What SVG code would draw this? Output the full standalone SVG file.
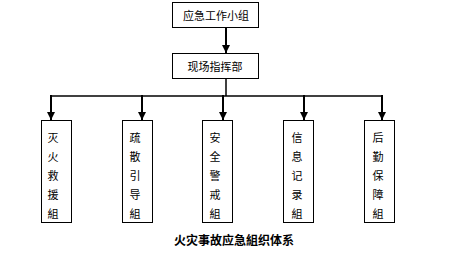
<svg xmlns="http://www.w3.org/2000/svg" width="450" height="253" viewBox="0 0 450 253">
<style>
.box{fill:#fff;stroke:#000;stroke-width:1}
.t{font-family:"Noto Sans CJK SC","Noto Sans CJK JP",sans-serif;font-size:11px;fill:#000;text-anchor:middle;dominant-baseline:central}
.cap{font-family:"Noto Sans CJK SC",sans-serif;font-size:12px;font-weight:bold;fill:#000;text-anchor:middle;dominant-baseline:central}
.ln{stroke:#000;fill:none}
</style>
<defs>
<marker id="ah" markerWidth="4" markerHeight="4" refX="4" refY="2" orient="auto" markerUnits="strokeWidth">
<path d="M0,0 L4,2 L0,4 Z" fill="#000"/>
</marker>
</defs>
<rect width="450" height="253" fill="#fff"/>
<g id="connectors">
<line class="ln" x1="226" y1="28" x2="226" y2="53" stroke-width="2" marker-end="url(#ah)"/>
<line class="ln" x1="226" y1="78" x2="226" y2="96" stroke-width="1.5"/>
<line class="ln" x1="50" y1="96" x2="383" y2="96" stroke-width="1.5"/>
<line class="ln" x1="51" y1="95" x2="51" y2="120" stroke-width="2" marker-end="url(#ah)"/>
<line class="ln" x1="142" y1="95" x2="142" y2="120" stroke-width="2" marker-end="url(#ah)"/>
<line class="ln" x1="223" y1="95" x2="223" y2="120" stroke-width="2" marker-end="url(#ah)"/>
<line class="ln" x1="304" y1="95" x2="304" y2="120" stroke-width="2" marker-end="url(#ah)"/>
<line class="ln" x1="382" y1="95" x2="382" y2="120" stroke-width="2" marker-end="url(#ah)"/>
</g>
<g id="n-top">
<rect class="box" x="172.5" y="2.5" width="86" height="25"/>
<text class="t" x="216" y="15">应急工作小组</text>
</g>
<g id="n-site">
<rect class="box" x="172.5" y="53.5" width="86" height="25"/>
<text class="t" x="215" y="66">现场指挥部</text>
</g>
<g id="n1">
<rect class="box" x="41.5" y="120.5" width="30" height="102"/>
<text class="t" x="53" y="137">灭</text><text class="t" x="53" y="156">火</text><text class="t" x="53" y="175">救</text><text class="t" x="53" y="194">援</text><text class="t" x="53" y="213">組</text>
</g>
<g id="n2">
<rect class="box" x="122.5" y="120.5" width="30" height="102"/>
<text class="t" x="135" y="137">疏</text><text class="t" x="135" y="156">散</text><text class="t" x="135" y="175">引</text><text class="t" x="135" y="194">导</text><text class="t" x="135" y="213">組</text>
</g>
<g id="n3">
<rect class="box" x="202.5" y="120.5" width="30" height="102"/>
<text class="t" x="215" y="137">安</text><text class="t" x="215" y="156">全</text><text class="t" x="215" y="175">警</text><text class="t" x="215" y="194">戒</text><text class="t" x="215" y="213">組</text>
</g>
<g id="n4">
<rect class="box" x="283.5" y="120.5" width="30" height="102"/>
<text class="t" x="297" y="137">信</text><text class="t" x="297" y="156">息</text><text class="t" x="297" y="175">记</text><text class="t" x="297" y="194">录</text><text class="t" x="297" y="213">組</text>
</g>
<g id="n5">
<rect class="box" x="364.5" y="120.5" width="30" height="102"/>
<text class="t" x="378" y="137">后</text><text class="t" x="378" y="156">勤</text><text class="t" x="378" y="175">保</text><text class="t" x="378" y="194">障</text><text class="t" x="378" y="213">組</text>
</g>
<text class="cap" x="234" y="239">火灾事故应急組织体系</text>
</svg>
